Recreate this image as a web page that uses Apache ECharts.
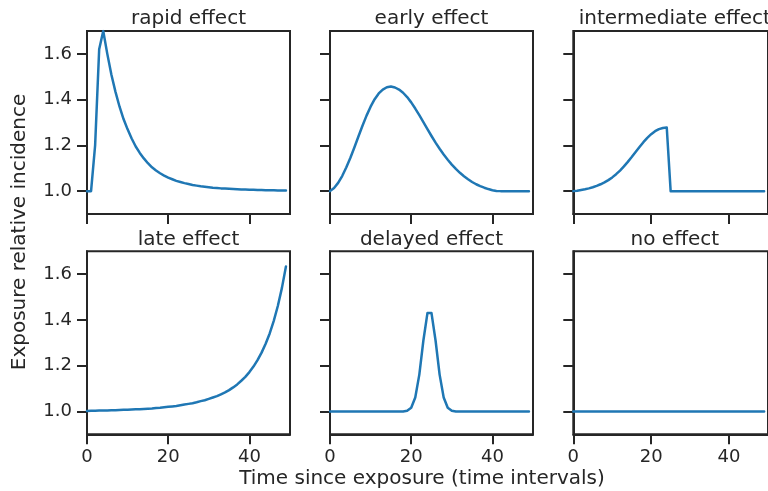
<!DOCTYPE html>
<html><head><meta charset="utf-8">
<script src="https://cdn.jsdelivr.net/npm/echarts@6/dist/echarts.min.js"></script>
<style>html,body{margin:0;padding:0;background:#fff}#c{width:768px;height:491px}</style>
</head><body><div id="c"></div>
<script>
// ---- data ----
const time = [0,1,2,3,4,5,6,7,8,9,10,11,12,13,14,15,16,17,18,19,20,21,22,23,24,25,26,27,28,29,30,31,32,33,34,35,36,37,38,39,40,41,42,43,44,45,46,47,48,49];
const titles = ["rapid effect","early effect","intermediate effect","late effect","delayed effect","no effect"];
const rapidEffect = [1.000,1.000,1.200,1.620,1.700,1.600,1.510,1.435,1.370,1.315,1.270,1.230,1.195,1.167,1.143,1.122,1.104,1.090,1.078,1.068,1.059,1.052,1.045,1.040,1.035,1.031,1.027,1.024,1.021,1.019,1.017,1.015,1.014,1.012,1.011,1.010,1.009,1.008,1.007,1.007,1.006,1.006,1.005,1.005,1.004,1.004,1.004,1.003,1.003,1.003];
const earlyEffect = [1.000,1.014,1.036,1.066,1.103,1.145,1.191,1.239,1.286,1.330,1.369,1.402,1.427,1.444,1.454,1.457,1.453,1.444,1.430,1.411,1.388,1.361,1.332,1.302,1.271,1.241,1.212,1.185,1.160,1.137,1.116,1.097,1.080,1.065,1.052,1.040,1.030,1.022,1.015,1.009,1.004,1.001,1.000,1.000,1.000,1.000,1.000,1.000,1.000,1.000];
const intermediateEffect = [1.000,1.002,1.005,1.008,1.012,1.017,1.023,1.030,1.038,1.048,1.060,1.074,1.090,1.108,1.128,1.149,1.171,1.193,1.214,1.233,1.249,1.262,1.271,1.276,1.278,1.000,1.000,1.000,1.000,1.000,1.000,1.000,1.000,1.000,1.000,1.000,1.000,1.000,1.000,1.000,1.000,1.000,1.000,1.000,1.000,1.000,1.000,1.000,1.000,1.000];
const lateEffect = [1.002,1.003,1.003,1.004,1.004,1.004,1.005,1.005,1.006,1.007,1.007,1.008,1.009,1.010,1.011,1.012,1.013,1.015,1.016,1.018,1.020,1.022,1.024,1.027,1.030,1.033,1.036,1.040,1.045,1.049,1.055,1.061,1.067,1.075,1.083,1.093,1.105,1.118,1.134,1.151,1.172,1.196,1.224,1.257,1.296,1.341,1.396,1.461,1.539,1.634];
const delayedEffect = [1.000,1.000,1.000,1.000,1.000,1.000,1.000,1.000,1.000,1.000,1.000,1.000,1.000,1.000,1.000,1.000,1.000,1.000,1.000,1.003,1.016,1.061,1.161,1.310,1.430,1.430,1.310,1.161,1.061,1.016,1.003,1.000,1.000,1.000,1.000,1.000,1.000,1.000,1.000,1.000,1.000,1.000,1.000,1.000,1.000,1.000,1.000,1.000,1.000,1.000];
const noEffect = [1.000,1.000,1.000,1.000,1.000,1.000,1.000,1.000,1.000,1.000,1.000,1.000,1.000,1.000,1.000,1.000,1.000,1.000,1.000,1.000,1.000,1.000,1.000,1.000,1.000,1.000,1.000,1.000,1.000,1.000,1.000,1.000,1.000,1.000,1.000,1.000,1.000,1.000,1.000,1.000,1.000,1.000,1.000,1.000,1.000,1.000,1.000,1.000,1.000,1.000];
const yTickValues = [1.0, 1.2, 1.4, 1.6];
const xTickValues = [0, 20, 40];
const xLabel = "Time since exposure (time intervals)";
const yLabel = "Exposure relative incidence";

// ---- layout ----
const allSeries = [rapidEffect, earlyEffect, intermediateEffect, lateEffect, delayedEffect, noEffect];
const colLeft = [87, 330, 573.3];
const rowTop = [31, 251.3];
const W = 203, H = 183;
const ink = '#262626';
const font = 'DejaVu Sans';

const grids = [], xAxes = [], yAxes = [], series = [], titleComps = [];
for (let i = 0; i < 6; i++) {
  const r = Math.floor(i / 3), c = i % 3;
  grids.push({left: colLeft[c], top: rowTop[r], width: W, height: H,
    show: true, borderColor: ink, borderWidth: 2, backgroundColor: 'transparent'});
  xAxes.push({type: 'value', gridIndex: i, min: 0, max: 50,
    axisLine: {show: true, onZero: false, lineStyle: {color: ink, width: 2}},
    axisTick: {show: true, inside: false, length: 10, customValues: xTickValues, lineStyle: {color: ink, width: 2}},
    axisLabel: {show: r === 1, customValues: xTickValues, margin: 14, color: ink, fontSize: 18, fontFamily: font},
    splitLine: {show: false}});
  yAxes.push({type: 'value', gridIndex: i, min: 0.9, max: 1.7,
    axisLine: {show: true, onZero: false, lineStyle: {color: ink, width: 2}},
    axisTick: {show: true, inside: false, length: 10, customValues: yTickValues, lineStyle: {color: ink, width: 2}},
    axisLabel: {show: c === 0, customValues: yTickValues, margin: 15, color: ink, fontSize: 18, fontFamily: font,
      formatter: v => Number(v).toFixed(1)},
    splitLine: {show: false}});
  series.push({type: 'line', xAxisIndex: i, yAxisIndex: i, showSymbol: false, symbol: 'none',
    clip: true, animation: false,
    lineStyle: {color: '#1f77b4', width: 2.5, join: 'round', cap: 'round'}, itemStyle: {color: '#1f77b4'},
    data: time.map((t, k) => [t, allSeries[i][k]])});
  titleComps.push({text: titles[i], left: colLeft[c] + W / 2, top: rowTop[r] - 22, textAlign: 'center',
    textStyle: {color: ink, fontSize: 20, fontWeight: 'normal', fontFamily: font, lineHeight: 20}, padding: 0});
}

const chart = echarts.init(document.getElementById('c'), null, {renderer: 'canvas'});
chart.setOption({
  animation: false,
  backgroundColor: '#ffffff',
  title: titleComps,
  grid: grids, xAxis: xAxes, yAxis: yAxes, series: series,
  graphic: [
    {type: 'text', x: 422, y: 479, style: {text: xLabel, x: 0, y: 0, fill: ink, font: '20px "DejaVu Sans"', textAlign: 'center', textVerticalAlign: 'middle'}},
    {type: 'text', x: 20, y: 232, rotation: Math.PI / 2, style: {text: yLabel, x: 0, y: 0, fill: ink, font: '20px "DejaVu Sans"', textAlign: 'center', textVerticalAlign: 'middle'}}
  ]
});
</script>
</body></html>
